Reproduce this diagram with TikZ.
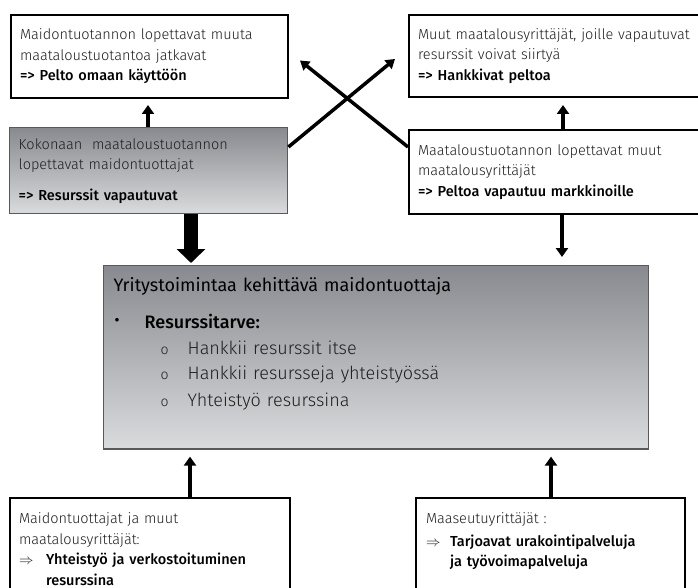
\documentclass[tikz,border=0pt]{standalone}
\usepackage{fontspec}
\setmainfont{Fira Sans}[UprightFont={* Light}, BoldFont={* Medium}]
\newfontfamily\titlefont{Fira Sans}
\usetikzlibrary{arrows.meta}

\definecolor{shadedark}{RGB}{136,138,143}
\definecolor{shadelight}{RGB}{218,219,221}
\definecolor{textgray}{RGB}{30,30,30}

\tikzset{
  box/.style={anchor=north west, align=left, inner xsep=9pt, inner ysep=0pt,
    text=textgray, font=\fontsize{14.5}{20.5}\selectfont},
  whitebox/.style={box, draw=black, line width=2pt, fill=white},
  graybox/.style={box, draw=black!65, line width=1.4pt,
    top color=shadedark, bottom color=shadelight},
  thinarrow/.style={-{Triangle[width=12pt,length=9pt]}, line width=4.5pt},
  crossarrow/.style={-{Triangle[width=11pt,length=9pt]}, line width=3.5pt},
  fatarrow/.style={-{Triangle[width=28pt,length=14pt]}, line width=14pt}
}
\newcommand{\boldline}[1]{\textcolor{black}{\textbf{#1}}}

\begin{document}
\begin{tikzpicture}[x=1pt, y=-1pt]
  \useasboundingbox (0,0) rectangle (698,588);

  % upper row
  \node[whitebox, text width=259pt, minimum height=83pt] (keep) at (10,14)
    {Maidontuotannon lopettavat muuta\\ maataloustuotantoa jatkavat\\ \boldline{=> Pelto omaan käyttöön}};
  \node[whitebox, text width=282pt, minimum height=82pt] (grow) at (408,14)
    {Muut maatalousyrittäjät, joille vapautuvat\\ resurssit voivat siirtyä\\ \boldline{=> Hankkivat peltoa}};

  % middle row
  \node[graybox, text width=260pt, minimum height=86pt] (quit) at (9,127)
    {Kokonaan\ \ maataloustuotannon\\ lopettavat maidontuottajat\\[10pt] \boldline{=> Resurssit vapautuvat}};
  \node[whitebox, text width=282pt, minimum height=84pt] (sell) at (408,129)
    {Maataloustuotannon lopettavat muut\\ maatalousyrittäjät\\ \boldline{=> Peltoa vapautuu markkinoille}};

  % main box
  \node[graybox, text width=525pt, inner xsep=10pt, inner ysep=12pt,
    font=\fontsize{18}{25.5}\selectfont] (main) at (103,265)
    {\textcolor{black}{\titlefont Yritystoimintaa kehittävä maidontuottaja}\\[11.5pt]
     \makebox[31pt][l]{\textcolor{black}{\fontsize{24}{24}\selectfont\textbullet}}\boldline{Resurssitarve:}\\
     \hspace*{47pt}\makebox[27pt][l]{\fontsize{14}{14}\selectfont o}Hankkii resurssit itse\\
     \hspace*{47pt}\makebox[27pt][l]{\fontsize{14}{14}\selectfont o}Hankkii resursseja yhteistyössä\\[1pt]
     \hspace*{47pt}\makebox[27pt][l]{\fontsize{14}{14}\selectfont o}Yhteistyö resurssina\par\vspace*{27pt}};

  % lower row
  \node[whitebox, text width=262pt, inner ysep=15pt] (coop) at (9,497)
    {Maidontuottajat ja muut\\ maatalousyrittäjät:\\
     \makebox[27pt][l]{$\Rightarrow$}\boldline{Yhteistyö ja verkostoituminen}\\
     \hspace*{27pt}\boldline{resurssina}\par\vspace*{12pt}};
  \node[whitebox, text width=249pt, inner xsep=10pt, inner ysep=15pt] (rural) at (415,497)
    {Maaseutuyrittäjät :\\[2pt]
     \makebox[24pt][l]{$\Rightarrow$}\boldline{Tarjoavat urakointipalveluja}\\
     \hspace*{24pt}\boldline{ja työvoimapalveluja}\par\vspace*{30pt}};

  % connectors
  \draw[thinarrow, shorten >=6pt] ([xshift=139pt]quit.north west) -- ([xshift=138pt]keep.south west);
  \draw[thinarrow, shorten >=7pt] ([xshift=155pt]sell.north west) -- ([xshift=155pt]grow.south west);
  \draw[crossarrow] ([yshift=-20pt]quit.north east) -- ([xshift=-13pt,yshift=-3pt]grow.west);
  \draw[crossarrow] ([yshift=-18pt]sell.north west) -- ([xshift=11pt,yshift=-4pt]keep.east);
  \draw[fatarrow, shorten >=2pt] ([xshift=182pt]quit.south west) -- ([xshift=88pt]main.north west);
  \draw[thinarrow, shorten >=8pt] ([xshift=154pt]sell.south west) -- ([xshift=459pt]main.north west);
  \draw[thinarrow, shorten >=7pt] ([xshift=181pt]coop.north west) -- ([xshift=87pt]main.south west);
  \draw[thinarrow, shorten >=7pt] ([xshift=136pt]rural.north west) -- ([xshift=448pt]main.south west);
\end{tikzpicture}
\end{document}
